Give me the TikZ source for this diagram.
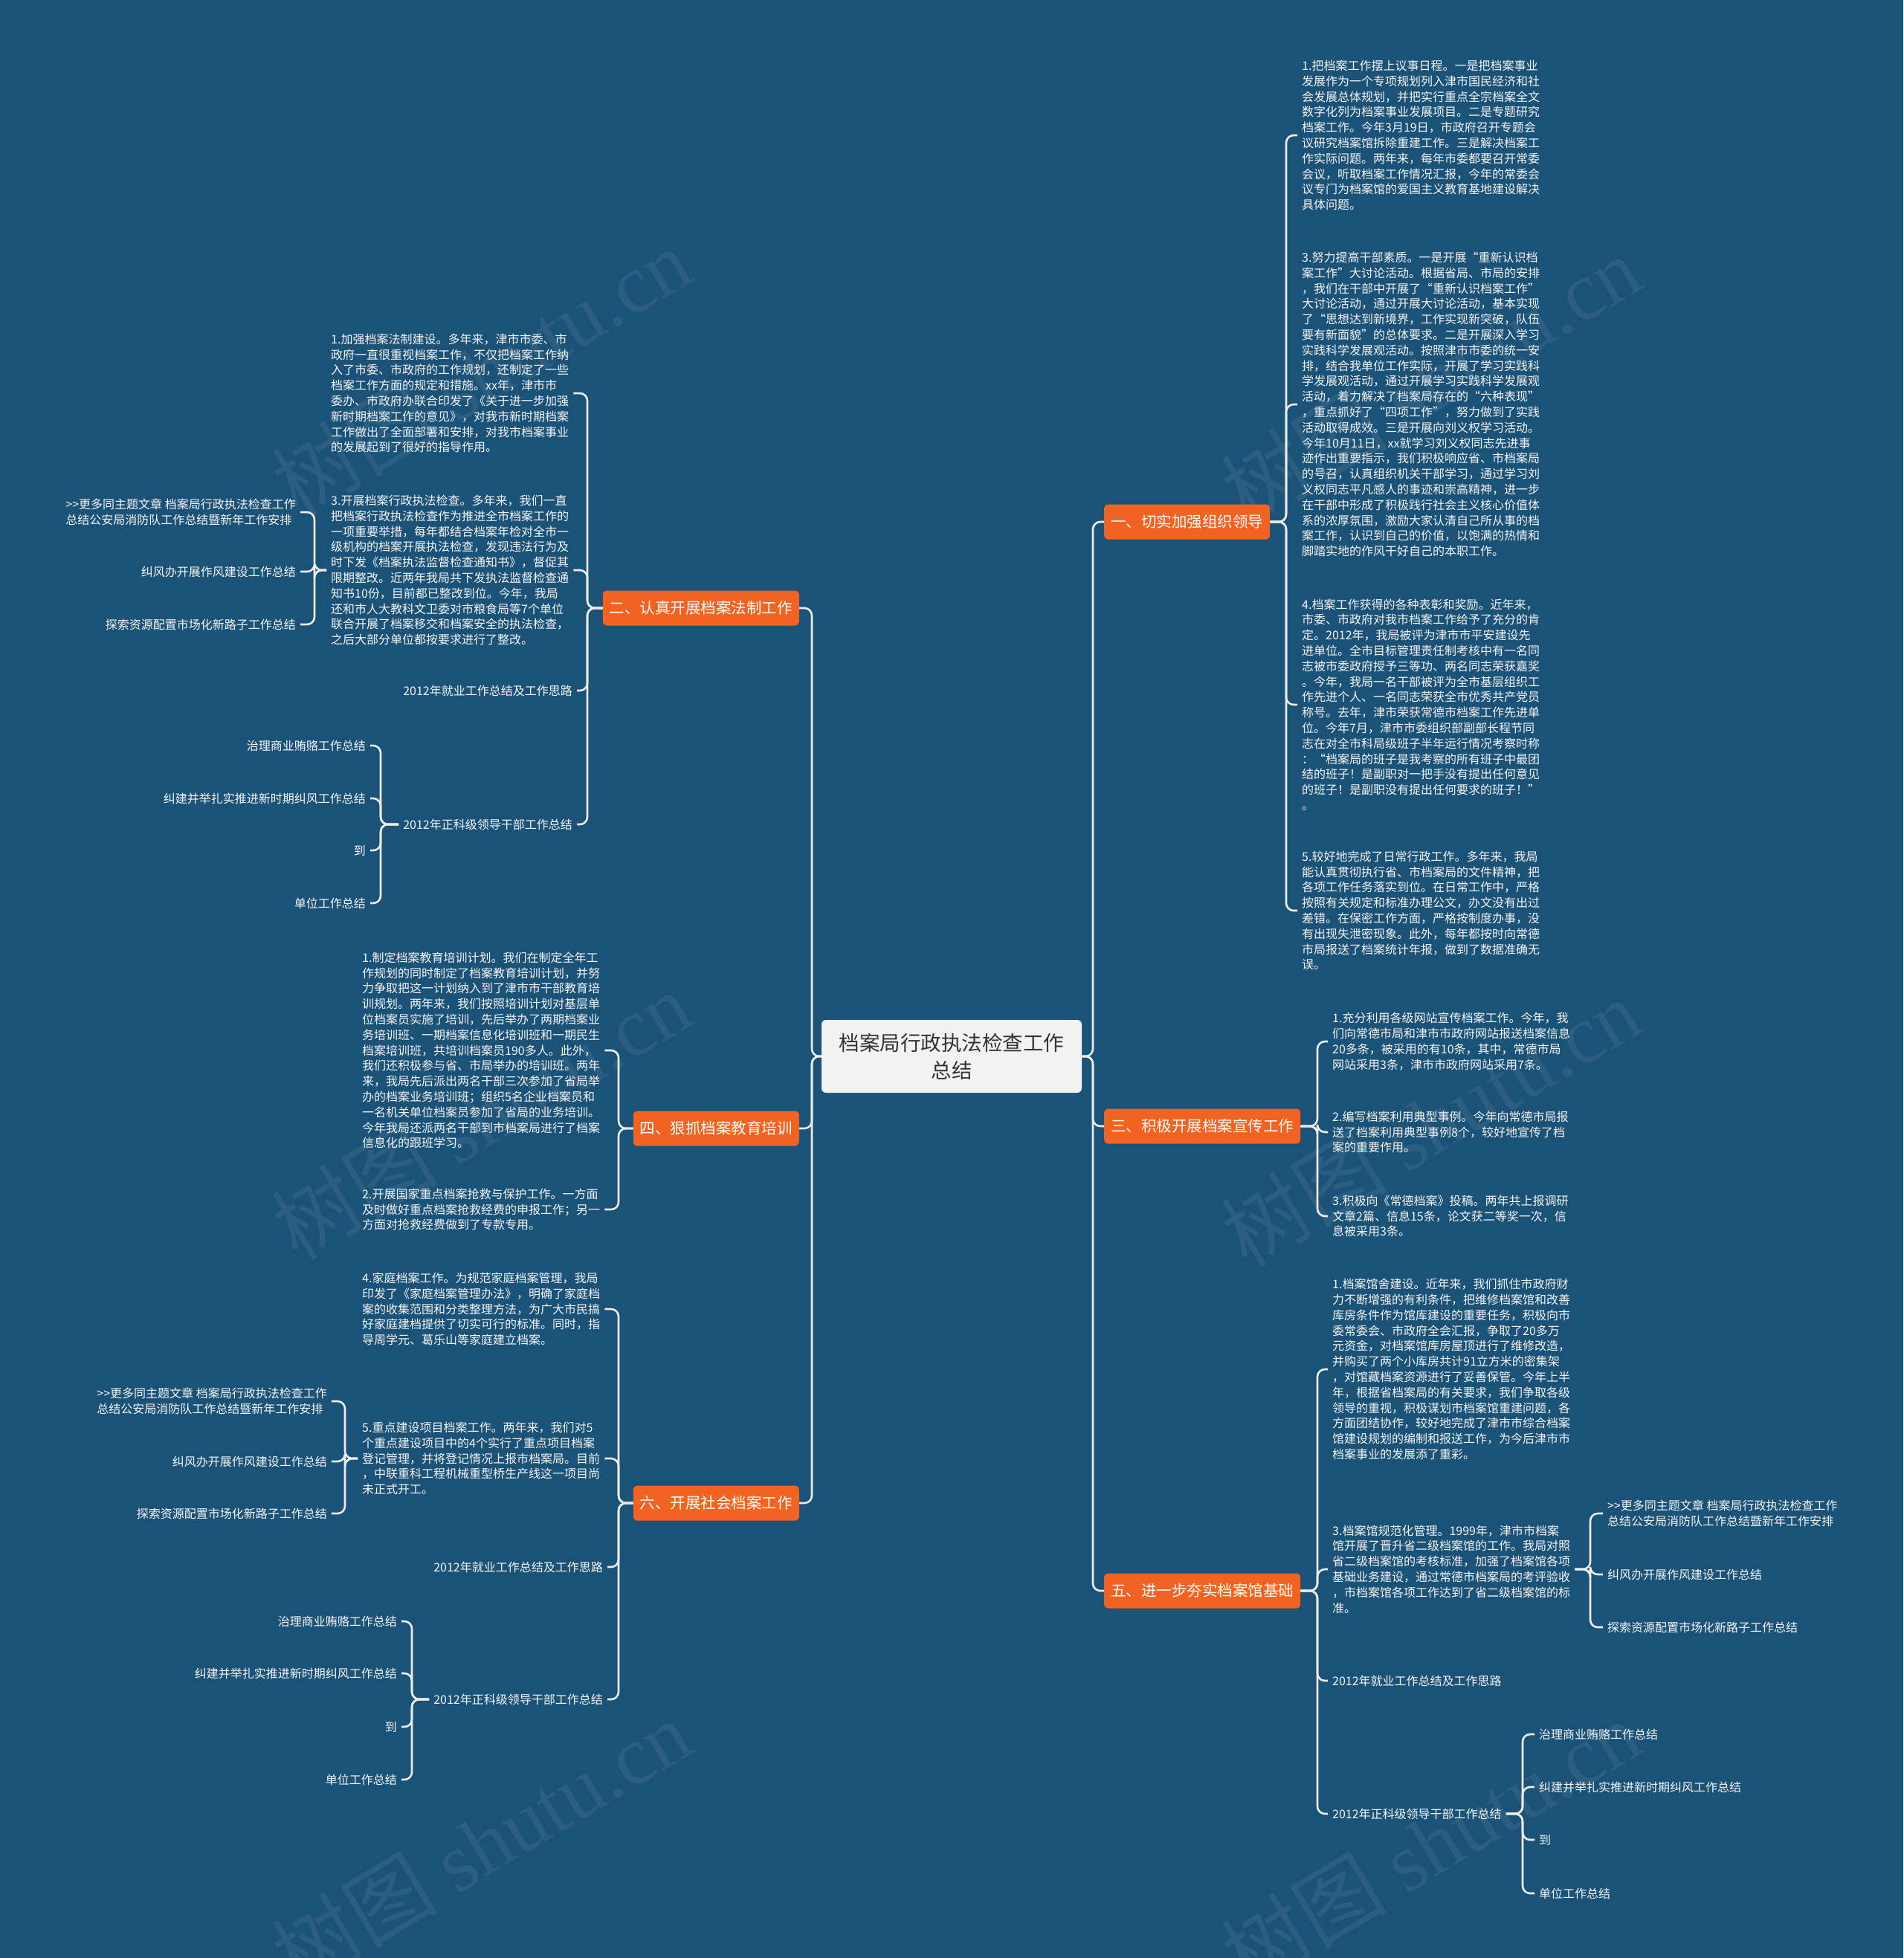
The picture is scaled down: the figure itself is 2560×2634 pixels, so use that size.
\documentclass[tikz,border=0pt]{standalone}
\usepackage{fontspec}
\setmainfont{Noto Sans CJK SC}
\newfontfamily\wmserif{Liberation Serif}
\definecolor{bg}{RGB}{27,82,119}
\definecolor{org}{RGB}{242,99,33}
\definecolor{lnc}{RGB}{236,236,236}
\definecolor{ctr}{RGB}{242,242,242}
\definecolor{ctxt}{RGB}{51,51,51}
\definecolor{txt}{RGB}{246,246,246}
\tikzset{
 conn/.style={draw=lnc, line width=2.6pt, rounded corners=10pt},
 leaf/.style={text=txt, align=left, inner xsep=6pt, inner ysep=2pt, font=\fontsize{16}{20.8}\selectfont},
 leafr/.style={leaf, anchor=west},
 leafl/.style={leaf, anchor=east},
 branchr/.style={fill=org, text=white, rounded corners=5pt, minimum height=47pt, inner xsep=9pt, font=\fontsize{20.5}{24}\selectfont, anchor=west},
 branchl/.style={branchr, anchor=east},
 root/.style={fill=ctr, text=ctxt, rounded corners=6pt, align=center, minimum width=350pt, minimum height=98pt, font=\fontsize{27.5}{37}\selectfont},
 wm/.style={text=white, opacity=0.07, rotate=31, font=\fontsize{112}{112}\selectfont}
}
\begin{document}
\begin{tikzpicture}[x=1pt,y=-1pt]
\fill[bg] (0,0) rectangle (2560,2634);
\useasboundingbox (0,0) rectangle (2560,2634);
% watermarks
\node[wm] (w1) at (647,500) {树图 {\wmserif shutu.cn}};
\node[wm] (w2) at (1924,510) {树图 {\wmserif shutu.cn}};
\node[wm] (w3) at (647,1500) {树图 {\wmserif shutu.cn}};
\node[wm] (w4) at (1924,1510) {树图 {\wmserif shutu.cn}};
\node[wm] (w5) at (647,2480) {树图 {\wmserif shutu.cn}};
\node[wm] (w6) at (1924,2480) {树图 {\wmserif shutu.cn}};

% center
\node[root] (c) at (1280,1421) {档案局行政执法检查工作\\总结};

% branches
\node[branchr] (b1) at (1485,702) {一、切实加强组织领导};
\node[branchr] (b3) at (1485,1515) {三、积极开展档案宣传工作};
\node[branchr] (b5) at (1485,2140) {五、进一步夯实档案馆基础};
\node[branchl] (b2) at (1075,818) {二、认真开展档案法制工作};
\node[branchl] (b4) at (1075,1518) {四、狠抓档案教育培训};
\node[branchl] (b6) at (1075,2022) {六、开展社会档案工作};

% ---------- right branch 1
\node[leafr] (r1a) at (1745,182) {1.把档案工作摆上议事日程。一是把档案事业\\
发展作为一个专项规划列入津市国民经济和社\\
会发展总体规划，并把实行重点全宗档案全文\\
数字化列为档案事业发展项目。二是专题研究\\
档案工作。今年3月19日，市政府召开专题会\\
议研究档案馆拆除重建工作。三是解决档案工\\
作实际问题。两年来，每年市委都要召开常委\\
会议，听取档案工作情况汇报，今年的常委会\\
议专门为档案馆的爱国主义教育基地建设解决\\
具体问题。};
\node[leafr] (r1b) at (1745,544) {3.努力提高干部素质。一是开展“重新认识档\\
案工作”大讨论活动。根据省局、市局的安排\\
，我们在干部中开展了“重新认识档案工作”\\
大讨论活动，通过开展大讨论活动，基本实现\\
了“思想达到新境界，工作实现新突破，队伍\\
要有新面貌”的总体要求。二是开展深入学习\\
实践科学发展观活动。按照津市市委的统一安\\
排，结合我单位工作实际，开展了学习实践科\\
学发展观活动，通过开展学习实践科学发展观\\
活动，着力解决了档案局存在的“六种表现”\\
，重点抓好了“四项工作”，努力做到了实践\\
活动取得成效。三是开展向刘义权学习活动。\\
今年10月11日，xx就学习刘义权同志先进事\\
迹作出重要指示，我们积极响应省、市档案局\\
的号召，认真组织机关干部学习，通过学习刘\\
义权同志平凡感人的事迹和崇高精神，进一步\\
在干部中形成了积极践行社会主义核心价值体\\
系的浓厚氛围，激励大家认清自己所从事的档\\
案工作，认识到自己的价值，以饱满的热情和\\
脚踏实地的作风干好自己的本职工作。};
\node[leafr] (r1c) at (1745,948) {4.档案工作获得的各种表彰和奖励。近年来，\\
市委、市政府对我市档案工作给予了充分的肯\\
定。2012年，我局被评为津市市平安建设先\\
进单位。全市目标管理责任制考核中有一名同\\
志被市委政府授予三等功、两名同志荣获嘉奖\\
。今年，我局一名干部被评为全市基层组织工\\
作先进个人、一名同志荣获全市优秀共产党员\\
称号。去年，津市荣获常德市档案工作先进单\\
位。今年7月，津市市委组织部副部长程节同\\
志在对全市科局级班子半年运行情况考察时称\\
：“档案局的班子是我考察的所有班子中最团\\
结的班子！是副职对一把手没有提出任何意见\\
的班子！是副职没有提出任何要求的班子！”\\
。};
\node[leafr] (r1d) at (1745,1225) {5.较好地完成了日常行政工作。多年来，我局\\
能认真贯彻执行省、市档案局的文件精神，把\\
各项工作任务落实到位。在日常工作中，严格\\
按照有关规定和标准办理公文，办文没有出过\\
差错。在保密工作方面，严格按制度办事，没\\
有出现失泄密现象。此外，每年都按时向常德\\
市局报送了档案统计年报，做到了数据准确无\\
误。};

% ---------- right branch 3
\node[leafr] (r3a) at (1786,1401) {1.充分利用各级网站宣传档案工作。今年，我\\
们向常德市局和津市市政府网站报送档案信息\\
20多条，被采用的有10条，其中，常德市局\\
网站采用3条，津市市政府网站采用7条。};
\node[leafr] (r3b) at (1786,1523) {2.编写档案利用典型事例。今年向常德市局报\\
送了档案利用典型事例8个，较好地宣传了档\\
案的重要作用。};
\node[leafr] (r3c) at (1786,1636) {3.积极向《常德档案》投稿。两年共上报调研\\
文章2篇、信息15条，论文获二等奖一次，信\\
息被采用3条。};

% ---------- right branch 5
\node[leafr] (r5a) at (1786,1842) {1.档案馆舍建设。近年来，我们抓住市政府财\\
力不断增强的有利条件，把维修档案馆和改善\\
库房条件作为馆库建设的重要任务，积极向市\\
委常委会、市政府全会汇报，争取了20多万\\
元资金，对档案馆库房屋顶进行了维修改造，\\
并购买了两个小库房共计91立方米的密集架\\
，对馆藏档案资源进行了妥善保管。今年上半\\
年，根据省档案局的有关要求，我们争取各级\\
领导的重视，积极谋划市档案馆重建问题，各\\
方面团结协作，较好地完成了津市市综合档案\\
馆建设规划的编制和报送工作，为今后津市市\\
档案事业的发展添了重彩。};
\node[leafr] (r5b) at (1786,2111) {3.档案馆规范化管理。1999年，津市市档案\\
馆开展了晋升省二级档案馆的工作。我局对照\\
省二级档案馆的考核标准，加强了档案馆各项\\
基础业务建设，通过常德市档案局的考评验收\\
，市档案馆各项工作达到了省二级档案馆的标\\
准。};
\node[leafr] (r5c) at (1786,2261) {2012年就业工作总结及工作思路};
\node[leafr] (r5d) at (1786,2440) {2012年正科级领导干部工作总结};
\node[leafr] (rl1) at (2156,2036) {>{}>更多同主题文章 档案局行政执法检查工作\\总结公安局消防队工作总结暨新年工作安排};
\node[leafr] (rl2) at (2156,2118) {纠风办开展作风建设工作总结};
\node[leafr] (rl3) at (2156,2189) {探索资源配置市场化新路子工作总结};
\node[leafr] (rk1) at (2064,2333) {治理商业贿赂工作总结};
\node[leafr] (rk2) at (2064,2404) {纠建并举扎实推进新时期纠风工作总结};
\node[leafr] (rk3) at (2064,2475) {到};
\node[leafr] (rk4) at (2064,2547) {单位工作总结};

% ---------- left branch 2
\node[leafr] (l2a) at (439,529) {1.加强档案法制建设。多年来，津市市委、市\\
政府一直很重视档案工作，不仅把档案工作纳\\
入了市委、市政府的工作规划，还制定了一些\\
档案工作方面的规定和措施。xx年，津市市\\
委办、市政府办联合印发了《关于进一步加强\\
新时期档案工作的意见》，对我市新时期档案\\
工作做出了全面部署和安排，对我市档案事业\\
的发展起到了很好的指导作用。};
\node[leafr] (l2b) at (439,767) {3.开展档案行政执法检查。多年来，我们一直\\
把档案行政执法检查作为推进全市档案工作的\\
一项重要举措，每年都结合档案年检对全市一\\
级机构的档案开展执法检查，发现违法行为及\\
时下发《档案执法监督检查通知书》，督促其\\
限期整改。近两年我局共下发执法监督检查通\\
知书10份，目前都已整改到位。今年，我局\\
还和市人大教科文卫委对市粮食局等7个单位\\
联合开展了档案移交和档案安全的执法检查，\\
之后大部分单位都按要求进行了整改。};
\node[leafl] (l2c) at (776,929) {2012年就业工作总结及工作思路};
\node[leafl] (l2d) at (776,1109) {2012年正科级领导干部工作总结};
\node[leafl] (ll1) at (404,689) {>{}>更多同主题文章 档案局行政执法检查工作\\总结公安局消防队工作总结暨新年工作安排};
\node[leafl] (ll2) at (404,769) {纠风办开展作风建设工作总结};
\node[leafl] (ll3) at (404,840) {探索资源配置市场化新路子工作总结};
\node[leafl] (lk1) at (498,1003) {治理商业贿赂工作总结};
\node[leafl] (lk2) at (498,1074) {纠建并举扎实推进新时期纠风工作总结};
\node[leafl] (lk3) at (498,1144) {到};
\node[leafl] (lk4) at (498,1215) {单位工作总结};

% ---------- left branch 4
\node[leafr] (l4a) at (481,1413) {1.制定档案教育培训计划。我们在制定全年工\\
作规划的同时制定了档案教育培训计划，并努\\
力争取把这一计划纳入到了津市市干部教育培\\
训规划。两年来，我们按照培训计划对基层单\\
位档案员实施了培训，先后举办了两期档案业\\
务培训班、一期档案信息化培训班和一期民生\\
档案培训班，共培训档案员190多人。此外，\\
我们还积极参与省、市局举办的培训班。两年\\
来，我局先后派出两名干部三次参加了省局举\\
办的档案业务培训班；组织5名企业档案员和\\
一名机关单位档案员参加了省局的业务培训。\\
今年我局还派两名干部到市档案局进行了档案\\
信息化的跟班学习。};
\node[leafr] (l4b) at (481,1627) {2.开展国家重点档案抢救与保护工作。一方面\\
及时做好重点档案抢救经费的申报工作；另一\\
方面对抢救经费做到了专款专用。};

% ---------- left branch 6
\node[leafr] (l6a) at (481,1761) {4.家庭档案工作。为规范家庭档案管理，我局\\
印发了《家庭档案管理办法》，明确了家庭档\\
案的收集范围和分类整理方法，为广大市民搞\\
好家庭建档提供了切实可行的标准。同时，指\\
导周学元、葛乐山等家庭建立档案。};
\node[leafr] (l6b) at (481,1962) {5.重点建设项目档案工作。两年来，我们对5\\
个重点建设项目中的4个实行了重点项目档案\\
登记管理，并将登记情况上报市档案局。目前\\
，中联重科工程机械重型桥生产线这一项目尚\\
未正式开工。};
\node[leafl] (l6c) at (817,2108) {2012年就业工作总结及工作思路};
\node[leafl] (l6d) at (817,2286) {2012年正科级领导干部工作总结};
\node[leafl] (lm1) at (446,1885) {>{}>更多同主题文章 档案局行政执法检查工作\\总结公安局消防队工作总结暨新年工作安排};
\node[leafl] (lm2) at (446,1966) {纠风办开展作风建设工作总结};
\node[leafl] (lm3) at (446,2036) {探索资源配置市场化新路子工作总结};
\node[leafl] (ln1) at (540,2181) {治理商业贿赂工作总结};
\node[leafl] (ln2) at (540,2251) {纠建并举扎实推进新时期纠风工作总结};
\node[leafl] (ln3) at (540,2323) {到};
\node[leafl] (ln4) at (540,2394) {单位工作总结};

% ---------- trunk coordinates
\coordinate (tR) at (1470,0);
\coordinate (tL) at (1092,0);
\coordinate (t1) at (1730,0);
\coordinate (t3) at (1772,0);
\coordinate (t5) at (1772,0);
\coordinate (t5b) at (2139,0);
\coordinate (t5d) at (2048,0);
\coordinate (t2) at (790,0);
\coordinate (t2b) at (423,0);
\coordinate (t2d) at (512,0);
\coordinate (t4) at (832,0);
\coordinate (t6) at (832,0);
\coordinate (t6b) at (464,0);
\coordinate (t6d) at (554,0);

% ---------- connectors
\foreach \k in {b1,b3,b5} \draw[conn] (c.east) -- (c.east -| tR) |- (\k.west);
\foreach \k in {b2,b4,b6} \draw[conn] (c.west) -- (c.west -| tL) |- (\k.east);
\foreach \k in {r1a,r1b,r1c,r1d} \draw[conn] (b1.east) -- (b1.east -| t1) |- (\k.west);
\foreach \k in {r3a,r3b,r3c} \draw[conn] (b3.east) -- (b3.east -| t3) |- (\k.west);
\foreach \k in {r5a,r5b,r5c,r5d} \draw[conn] (b5.east) -- (b5.east -| t5) |- (\k.west);
\foreach \k in {rl1,rl2,rl3} \draw[conn] (r5b.east) -- (r5b.east -| t5b) |- (\k.west);
\foreach \k in {rk1,rk2,rk3,rk4} \draw[conn] (r5d.east) -- (r5d.east -| t5d) |- (\k.west);
\foreach \k in {l2a,l2b,l2c,l2d} \draw[conn] (b2.west) -- (b2.west -| t2) |- (\k.east);
\foreach \k in {ll1,ll2,ll3} \draw[conn] (l2b.west) -- (l2b.west -| t2b) |- (\k.east);
\foreach \k in {lk1,lk2,lk3,lk4} \draw[conn] (l2d.west) -- (l2d.west -| t2d) |- (\k.east);
\foreach \k in {l4a,l4b} \draw[conn] (b4.west) -- (b4.west -| t4) |- (\k.east);
\foreach \k in {l6a,l6b,l6c,l6d} \draw[conn] (b6.west) -- (b6.west -| t6) |- (\k.east);
\foreach \k in {lm1,lm2,lm3} \draw[conn] (l6b.west) -- (l6b.west -| t6b) |- (\k.east);
\foreach \k in {ln1,ln2,ln3,ln4} \draw[conn] (l6d.west) -- (l6d.west -| t6d) |- (\k.east);
\end{tikzpicture}
\end{document}
